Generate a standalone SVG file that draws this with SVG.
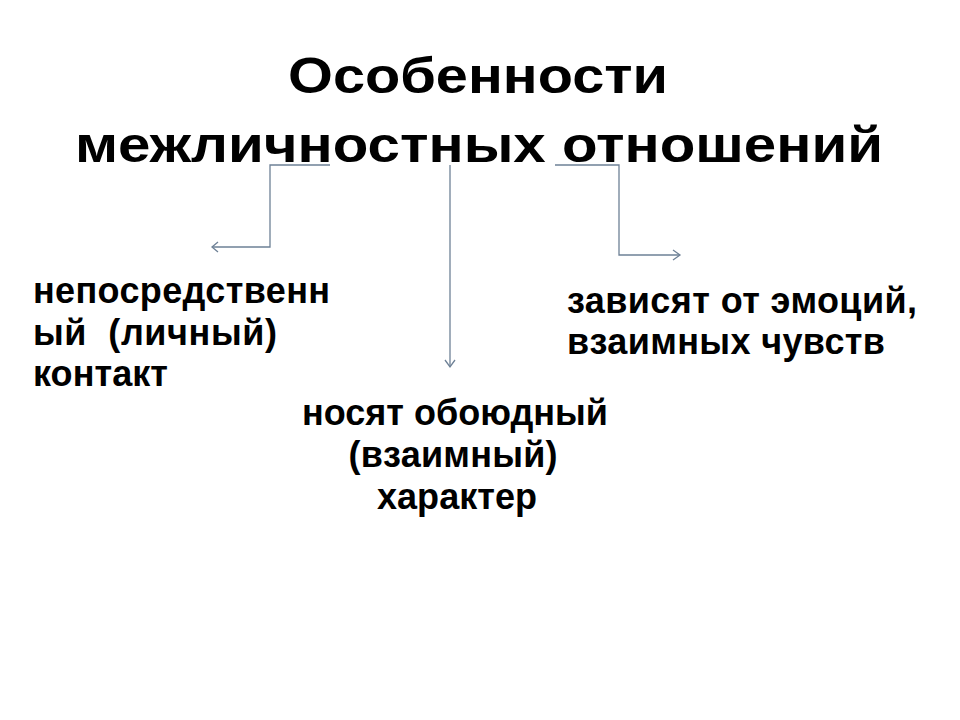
<svg xmlns="http://www.w3.org/2000/svg" width="960" height="720" viewBox="0 0 960 720">
<style>
.t{font-family:"Liberation Sans",Arial,sans-serif;font-weight:bold;fill:#000}
.title{font-size:50px}
.body{font-size:36px}
.pre{white-space:pre}
.c{fill:none;stroke:#6e8196;stroke-width:1.3}
</style>
<rect width="960" height="720" fill="#fff"/>
<g id="title">
<text class="t title" x="478" y="93" text-anchor="middle" textLength="380" lengthAdjust="spacingAndGlyphs">Особенности</text>
<text class="t title" x="479" y="162" text-anchor="middle" textLength="808" lengthAdjust="spacingAndGlyphs">межличностных отношений</text>
</g>
<g id="connectors">
<polyline class="c" points="330,165 270,165 270,247 212,247"/>
<polyline class="c" points="218,242 212,247 218,252"/>
<polyline class="c" points="450,165 450,367"/>
<polyline class="c" points="445,360 450,367 455,360"/>
<polyline class="c" points="555,165 619,165 619,255 680,255"/>
<polyline class="c" points="673,250 680,255 673,260"/>
</g>
<g id="node-left">
<text class="t body" x="33" y="303" textLength="297">непосредственн</text>
<text class="t body pre" x="33" y="345" textLength="244" xml:space="preserve">ый  (личный)</text>
<text class="t body" x="33" y="386" textLength="135">контакт</text>
</g>
<g id="node-middle">
<text class="t body" x="455" y="425" text-anchor="middle" textLength="306">носят обоюдный</text>
<text class="t body" x="453" y="467" text-anchor="middle" textLength="209">(взаимный)</text>
<text class="t body" x="457" y="509" text-anchor="middle" textLength="160">характер</text>
</g>
<g id="node-right">
<text class="t body" x="567" y="313" textLength="350">зависят от эмоций,</text>
<text class="t body" x="567" y="354" textLength="318">взаимных чувств</text>
</g>
</svg>
